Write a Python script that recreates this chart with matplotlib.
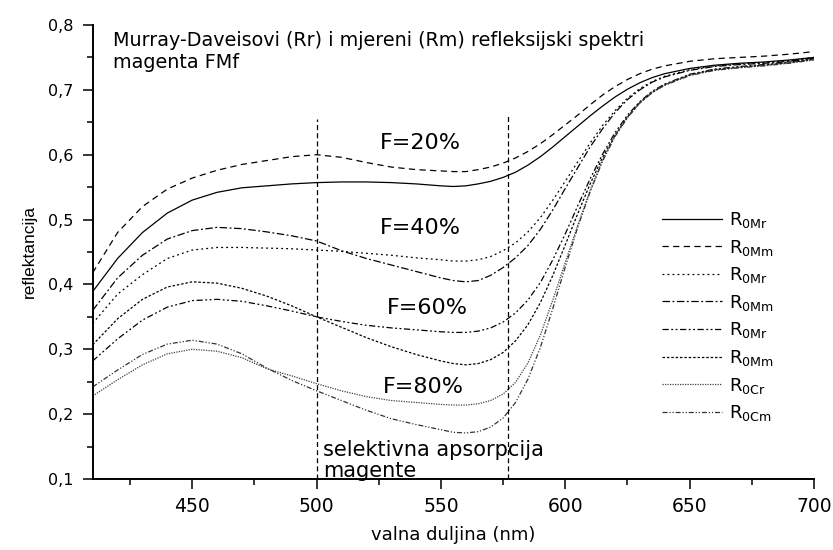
import matplotlib
matplotlib.use("Agg")
import matplotlib.pyplot as plt
from matplotlib.ticker import FixedLocator, MultipleLocator

# ---------------- data ----------------
wavelength = [410, 420, 430, 440, 450, 460, 470, 480, 490, 500, 510, 520, 530, 540, 550,
              555, 560, 565, 570, 575, 580, 585, 590, 595, 600, 605, 610, 615, 620, 625,
              630, 635, 640, 650, 660, 670, 680, 690, 700]

r_f20 = [0.389, 0.440, 0.480, 0.510, 0.530, 0.542, 0.549, 0.552, 0.555, 0.557, 0.558, 0.558, 0.557, 0.555, 0.552,
         0.551, 0.552, 0.555, 0.559, 0.565, 0.573, 0.584, 0.597, 0.612, 0.628, 0.644, 0.660, 0.675, 0.689, 0.701,
         0.711, 0.719, 0.725, 0.733, 0.738, 0.741, 0.743, 0.746, 0.750]
m_f20 = [0.418, 0.480, 0.520, 0.547, 0.564, 0.576, 0.585, 0.591, 0.597, 0.600, 0.596, 0.588, 0.581, 0.577, 0.575,
         0.574, 0.574, 0.577, 0.581, 0.587, 0.595, 0.605, 0.617, 0.631, 0.646, 0.661, 0.677, 0.692, 0.705, 0.716,
         0.725, 0.732, 0.737, 0.744, 0.748, 0.750, 0.752, 0.755, 0.759]
r_f40 = [0.340, 0.385, 0.415, 0.440, 0.453, 0.457, 0.457, 0.456, 0.455, 0.453, 0.451, 0.448, 0.445, 0.441, 0.438,
         0.436, 0.436, 0.438, 0.443, 0.452, 0.464, 0.481, 0.503, 0.530, 0.559, 0.589, 0.618, 0.645, 0.668, 0.687,
         0.702, 0.713, 0.721, 0.731, 0.737, 0.740, 0.742, 0.745, 0.750]
m_f40 = [0.360, 0.410, 0.445, 0.470, 0.483, 0.488, 0.486, 0.481, 0.475, 0.467, 0.452, 0.440, 0.430, 0.420, 0.410,
         0.406, 0.404, 0.406, 0.414, 0.426, 0.441, 0.460, 0.485, 0.515, 0.548, 0.580, 0.612, 0.640, 0.665, 0.685,
         0.700, 0.712, 0.720, 0.730, 0.736, 0.739, 0.741, 0.744, 0.749]
r_f60 = [0.282, 0.316, 0.345, 0.365, 0.375, 0.377, 0.374, 0.367, 0.359, 0.350, 0.343, 0.337, 0.333, 0.330, 0.327,
         0.326, 0.326, 0.328, 0.333, 0.342, 0.356, 0.376, 0.403, 0.438, 0.478, 0.521, 0.563, 0.601, 0.634, 0.661,
         0.682, 0.698, 0.709, 0.724, 0.732, 0.736, 0.739, 0.743, 0.748]
m_f60 = [0.307, 0.347, 0.377, 0.396, 0.404, 0.402, 0.394, 0.382, 0.367, 0.350, 0.334, 0.318, 0.304, 0.292, 0.282,
         0.278, 0.276, 0.278, 0.284, 0.295, 0.313, 0.338, 0.372, 0.414, 0.461, 0.509, 0.555, 0.596, 0.630, 0.658,
         0.680, 0.696, 0.708, 0.723, 0.731, 0.735, 0.738, 0.742, 0.747]
r_f80 = [0.228, 0.253, 0.276, 0.293, 0.300, 0.297, 0.287, 0.270, 0.259, 0.247, 0.236, 0.227, 0.221, 0.218, 0.215,
         0.214, 0.214, 0.216, 0.221, 0.231, 0.249, 0.279, 0.322, 0.376, 0.434, 0.491, 0.545, 0.592, 0.630, 0.659,
         0.681, 0.697, 0.708, 0.723, 0.731, 0.735, 0.738, 0.742, 0.747]
m_f80 = [0.242, 0.268, 0.292, 0.308, 0.314, 0.308, 0.293, 0.271, 0.252, 0.236, 0.221, 0.206, 0.193, 0.184, 0.176,
         0.172, 0.171, 0.173, 0.180, 0.194, 0.218, 0.254, 0.303, 0.363, 0.427, 0.488, 0.543, 0.590, 0.628, 0.657,
         0.680, 0.696, 0.707, 0.722, 0.730, 0.734, 0.737, 0.741, 0.746]

series = [r_f20, m_f20, r_f40, m_f40, r_f60, m_f60, r_f80, m_f80]
legend_labels = [r"R$_{\mathregular{0Mr}}$", r"R$_{\mathregular{0Mm}}$", r"R$_{\mathregular{0Mr}}$",
                 r"R$_{\mathregular{0Mm}}$", r"R$_{\mathregular{0Mr}}$", r"R$_{\mathregular{0Mm}}$",
                 r"R$_{\mathregular{0Cr}}$", r"R$_{\mathregular{0Cm}}$"]

band_edges = [500, 577]
band_tops = [0.655, 0.660]

x_ticks = [450, 500, 550, 600, 650, 700]
y_ticks = [0.1, 0.2, 0.3, 0.4, 0.5, 0.6, 0.7, 0.8]
y_tick_labels = ["0,1", "0,2", "0,3", "0,4", "0,5", "0,6", "0,7", "0,8"]

f_labels = ["F=20%", "F=40%", "F=60%", "F=80%"]

# ---------------- styling ----------------
styles = [
    dict(color="black", linestyle="-"),
    dict(color="black", linestyle=(0, (5, 3.5))),
    dict(color="black", linestyle=(0, (1.5, 2.5))),
    dict(color="black", linestyle=(0, (6, 2, 1.5, 2))),
    dict(color="black", linestyle=(0, (5, 2, 1.5, 2, 1.5, 2))),
    dict(color="black", linestyle=(0, (2, 1.5))),
    dict(color="0.25", linestyle=(0, (1, 1))),
    dict(color="0.2", linestyle=(0, (4, 1.5, 1, 1.5, 1, 1.5))),
]

plt.rcParams["font.family"] = ["DejaVu Sans"]

fig = plt.figure(figsize=(8.33, 5.5), dpi=100)
ax = fig.add_axes([92.7 / 833, 1 - 479 / 550, (814 - 92.7) / 833, (479 - 25) / 550])

handles = []
for ys, st in zip(series, styles):
    h, = ax.plot(wavelength, ys, lw=0.9, **st)
    handles.append(h)

for xe, top in zip(band_edges, band_tops):
    ax.vlines(xe, 0.1, top, colors="black", linestyles=(0, (4, 2.5)), lw=0.9)

ax.set_xlim(410, 700)
ax.set_ylim(0.1, 0.8)

for s in ["top", "right"]:
    ax.spines[s].set_visible(False)
for s in ["left", "bottom"]:
    ax.spines[s].set_linewidth(1.4)

ax.xaxis.set_major_locator(FixedLocator(x_ticks))
ax.xaxis.set_minor_locator(MultipleLocator(25))
ax.yaxis.set_major_locator(FixedLocator(y_ticks))
ax.set_yticklabels(y_tick_labels)
ax.yaxis.set_minor_locator(MultipleLocator(0.05))
ax.tick_params(axis="both", which="major", direction="out", length=7, width=1.1)
ax.tick_params(axis="both", which="minor", direction="out", length=4, width=1.1)
ax.tick_params(axis="x", which="major", labelsize=13.5, pad=6)
ax.tick_params(axis="y", which="major", labelsize=11.5, pad=7)

ax.set_xlabel("valna duljina (nm)", fontsize=13, labelpad=7)
ax.set_ylabel("reflektancija", fontsize=12.5, family="Liberation Sans", labelpad=8)

ax.text(418.2, 0.759, "Murray-Daveisovi (Rr) i mjereni (Rm) refleksijski spektri\nmagenta FMf",
        fontsize=13.8, ha="left", va="center", linespacing=1.2)

f_pos = [(541.6, 0.618), (541.6, 0.487), (544.4, 0.364), (542.8, 0.242)]
for lab, (xx, yy) in zip(f_labels, f_pos):
    ax.text(xx, yy, lab, fontsize=16, ha="center", va="center")

ax.text(502.6, 0.129, "selektivna apsorpcija\nmagente", fontsize=15, ha="left", va="center",
        linespacing=1.05)

leg = fig.legend(handles, legend_labels, loc="upper left",
                 bbox_to_anchor=(662 / 833, 1 - 210 / 550), frameon=False,
                 fontsize=13, handlelength=3.3, handletextpad=0.4, labelspacing=0.42,
                 borderpad=0, borderaxespad=0)

fig.savefig("out.png", dpi=100)
